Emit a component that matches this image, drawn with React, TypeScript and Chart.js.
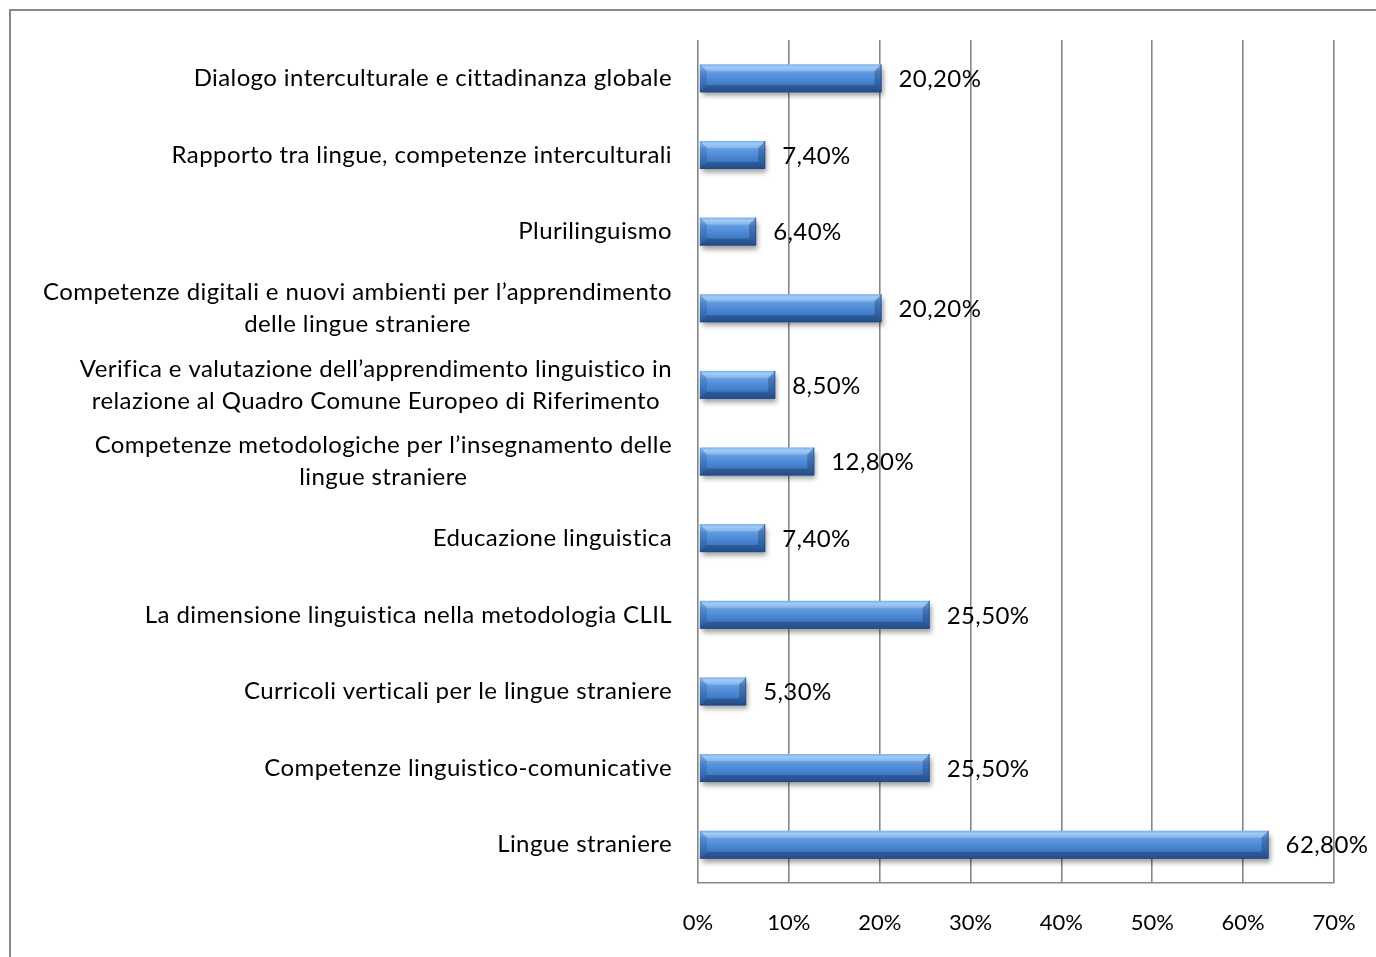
import React, { useEffect, useRef } from "react";
import { Chart, registerables } from "chart.js";

Chart.register(...registerables);

const CATEGORIES: (string | string[])[] = [
  "Dialogo interculturale e cittadinanza globale",
  "Rapporto tra lingue, competenze interculturali",
  "Plurilinguismo",
  ["Competenze digitali e nuovi ambienti per l’apprendimento", "delle lingue straniere"],
  ["Verifica e valutazione dell’apprendimento linguistico in", "relazione al Quadro Comune Europeo di Riferimento"],
  ["Competenze metodologiche per l’insegnamento delle", "lingue straniere"],
  "Educazione linguistica",
  "La dimensione linguistica nella metodologia CLIL",
  "Curricoli verticali per le lingue straniere",
  "Competenze linguistico-comunicative",
  "Lingue straniere",
];

const VALUES: number[] = [20.2, 7.4, 6.4, 20.2, 8.5, 12.8, 7.4, 25.5, 5.3, 25.5, 62.8];

const X_MIN = 0;
const X_MAX = 70;
const X_STEP = 10;

const FONT = "Lato, 'Open Sans', sans-serif";
const LABEL_SIZE = 24;
const LETTER_SPACING = "0.4px";
const LINE_H = 32;

const fmt = (v: number) => v.toFixed(2).replace(".", ",") + "%";

const catLabelsPlugin = {
  id: "catLabels",
  afterDraw(chart: any) {
    const ctx = chart.ctx;
    const y = chart.scales.y;
    const right = chart.chartArea.left - 26;
    ctx.save();
    ctx.font = `${LABEL_SIZE}px ${FONT}`;
    (ctx as any).letterSpacing = LETTER_SPACING;
    ctx.fillStyle = "#000";
    ctx.textBaseline = "middle";
    ctx.textAlign = "left";
    CATEGORIES.forEach((lab, i) => {
      const lines = Array.isArray(lab) ? lab : [lab];
      const yc = y.getPixelForValue(i);
      const widths = lines.map((l) => ctx.measureText(l).width);
      const w = Math.max(...widths);
      const cx = right - w / 2;
      lines.forEach((l, j) => {
        ctx.fillText(l, cx - widths[j] / 2, yc + (j - (lines.length - 1) / 2) * LINE_H);
      });
    });
    ctx.restore();
  },
};

const poly = (ctx: any, pts: number[][], fill: string) => {
  ctx.beginPath();
  ctx.moveTo(pts[0][0], pts[0][1]);
  for (let k = 1; k < pts.length; k++) ctx.lineTo(pts[k][0], pts[k][1]);
  ctx.closePath();
  ctx.fillStyle = fill;
  ctx.fill();
};

const bevelBarsPlugin = {
  id: "bevelBars",
  afterDatasetsDraw(chart: any) {
    const ctx = chart.ctx;
    const meta = chart.getDatasetMeta(0);
    meta.data.forEach((el: any, i: number) => {
      const p = el.getProps(["x", "y", "base", "height"], true);
      const x0 = Math.min(p.base, p.x) + 1;
      const x1 = Math.max(p.base, p.x);
      const h = p.height;
      const y0 = p.y - h / 2;
      const y1 = p.y + h / 2;
      const b = 7;
      // white out the default bar, then draw shadowed body
      ctx.save();
      ctx.shadowColor = "rgba(0,0,0,0.38)";
      ctx.shadowBlur = 5;
      ctx.shadowOffsetX = 2;
      ctx.shadowOffsetY = 4;
      const g = ctx.createLinearGradient(0, y0, 0, y1);
      g.addColorStop(0, "#5c9de8");
      g.addColorStop(0.1, "#8cc0f5");
      g.addColorStop(0.32, "#5d98e0");
      g.addColorStop(0.65, "#4580cc");
      g.addColorStop(1, "#2f62a4");
      ctx.fillStyle = g;
      ctx.fillRect(x0, y0, x1 - x0, h);
      ctx.restore();

      ctx.save();
      poly(ctx, [[x0, y0], [x1, y0], [x1 - b, y0 + b], [x0 + b, y0 + b]], "rgba(255,255,255,0.18)");
      poly(ctx, [[x0, y1], [x1, y1], [x1 - b, y1 - b], [x0 + b, y1 - b]], "rgba(10,30,70,0.3)");
      poly(ctx, [[x1, y0], [x1, y1], [x1 - b, y1 - b], [x1 - b, y0 + b]], "rgba(10,30,70,0.28)");
      poly(ctx, [[x0, y0], [x0, y1], [x0 + b, y1 - b], [x0 + b, y0 + b]], "rgba(10,30,70,0.16)");
      ctx.strokeStyle = "rgba(30,70,130,0.6)";
      ctx.lineWidth = 1;
      ctx.beginPath();
      ctx.moveTo(x0, y1 - 0.5);
      ctx.lineTo(x1 - 0.5, y1 - 0.5);
      ctx.lineTo(x1 - 0.5, y0);
      ctx.stroke();

      ctx.font = `${LABEL_SIZE}px ${FONT}`;
      (ctx as any).letterSpacing = LETTER_SPACING;
      ctx.fillStyle = "#000";
      ctx.textAlign = "left";
      ctx.textBaseline = "middle";
      ctx.fillText(fmt(VALUES[i]), x1 + 17, p.y + 1);
      ctx.restore();
    });
  },
};

export default function App() {
  const ref = useRef<HTMLCanvasElement>(null);
  useEffect(() => {
    if (!ref.current) return;
    const chart = new Chart(ref.current, {
      type: "bar",
      data: {
        labels: CATEGORIES.map((c) => (Array.isArray(c) ? c.join(" ") : c)),
        datasets: [
          {
            data: VALUES,
            backgroundColor: "rgba(0,0,0,0)",
            borderWidth: 0,
            barPercentage: 0.365,
            categoryPercentage: 1,
          },
        ],
      },
      options: {
        indexAxis: "y",
        animation: false,
        responsive: true,
        maintainAspectRatio: false,
        layout: { padding: { left: 698, right: 42, top: 40, bottom: 0 } },
        plugins: { legend: { display: false }, tooltip: { enabled: false } },
        scales: {
          y: { display: false },
          x: {
            position: "bottom",
            min: X_MIN,
            max: X_MAX,
            afterFit: (s: any) => {
              s.height = 74;
              s.paddingLeft = 0;
              s.paddingRight = 0;
            },
            ticks: {
              stepSize: X_STEP,
              padding: 27,
              color: "#000",
              font: { family: FONT, size: 22 },
              callback: (v: any) => `${v}%`,
            },
            grid: { color: "#868686", lineWidth: 1.6, drawTicks: false },
            border: { display: true, color: "#868686", width: 1.6 },
          },
        },
      },
      plugins: [catLabelsPlugin, bevelBarsPlugin],
    });
    return () => chart.destroy();
  }, []);

  return (
    <div style={{ position: "fixed", left: 0, top: 0, width: 1376, height: 957, overflow: "hidden", background: "#fff" }}>
      <div
        style={{
          position: "absolute",
          left: 9,
          top: 9,
          width: 1400,
          height: 1000,
          border: "2px solid #888888",
        }}
      />
      <div style={{ position: "absolute", left: 0, top: 0, width: 1376, height: 957 }}>
        <canvas ref={ref} />
      </div>
    </div>
  );
}
